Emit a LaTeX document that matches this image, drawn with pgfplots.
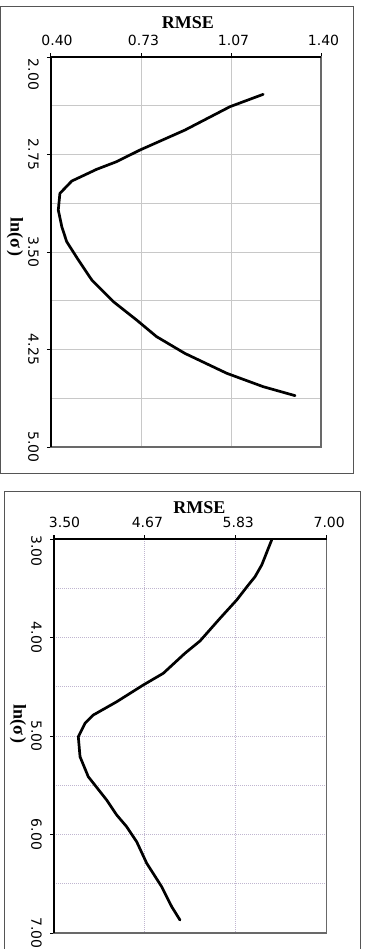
\documentclass[border=0pt]{standalone}
\usepackage{fontspec}
\setmainfont{Liberation Serif}
\newfontfamily\tickfont{DejaVu Sans}
\usepackage{pgfplots}
\usepackage{pgfplotstable}
\pgfplotsset{compat=1.18}
\definecolor{gridA}{RGB}{200,200,200}
\definecolor{gridB}{RGB}{192,182,208}
\definecolor{framec}{RGB}{85,85,85}
\definecolor{boxc}{RGB}{105,105,105}

\pgfplotstableread{
x y
1.186 2.287
1.063 2.382
0.896 2.562
0.730 2.715
0.643 2.805
0.569 2.864
0.477 2.954
0.433 3.049
0.427 3.177
0.440 3.305
0.458 3.420
0.501 3.560
0.551 3.715
0.631 3.882
0.717 4.023
0.791 4.151
0.896 4.280
1.051 4.433
1.186 4.536
1.304 4.605
}\topdata

\pgfplotstableread{
x y
6.294 3.010
6.251 3.095
6.166 3.264
6.080 3.383
5.994 3.467
5.845 3.619
5.631 3.805
5.374 4.035
5.181 4.160
4.903 4.363
4.646 4.482
4.305 4.652
4.004 4.787
3.898 4.871
3.812 5.007
3.834 5.210
3.940 5.413
4.176 5.650
4.305 5.802
4.433 5.921
4.561 6.073
4.690 6.292
4.882 6.530
5.011 6.733
5.117 6.868
}\botdata

\pgfplotsset{
  panel/.style={
    scale only axis,
    y dir=reverse,
    tick align=outside,
    major tick length=4pt,
    minor tick length=0pt,
    grid=both,
    minor x tick num=1,
    minor y tick num=1,
    axis line style={boxc, line width=1.2pt},
    tick style={black, line width=1pt},
    xtick pos=right, xticklabel pos=right,
    ytick pos=left, yticklabel pos=left,
    ticklabel style={font=\tickfont\fontsize{14}{14}\selectfont},
    xticklabel style={anchor=south, inner xsep=0pt, inner ysep=7.5pt, xshift=2.5pt},
    yticklabel style={rotate=-90, anchor=north, inner xsep=0pt, inner ysep=8pt},
    clip=false,
  },
  curve/.style={black, line width=2.7pt, line join=round, line cap=round},
}

\begin{document}
\begin{tikzpicture}[x=1pt,y=1pt]
\useasboundingbox (0,0) rectangle (364,-949);
\draw[framec, line width=1pt] (0.5,-7) rectangle (353,-473);
\draw[framec, line width=1pt] (4.3,-491) rectangle (360,-975);

\begin{axis}[panel,
  at={(51pt,-447pt)}, anchor=south west,
  width=270pt, height=390pt,
  xmin=0.4, xmax=1.4, ymin=2, ymax=5,
  xtick={0.4,0.73333,1.06667,1.4},
  xticklabels={\hspace*{7pt}0.40,0.73,1.07,1.40},
  ytick={2,2.75,3.5,4.25,5},
  yticklabels={\hspace*{35pt}2.00,2.75,3.50,4.25,5.00},
  grid style={gridA, line width=0.9pt},
]
\addplot[curve] table {\topdata};
\draw[black, line width=1.2pt] (axis cs:0.4,5) -- (axis cs:0.4,2) -- (axis cs:1.4,2);
\node[font=\bfseries\fontsize{18}{18}\selectfont, xshift=2pt, yshift=34pt] at (axis cs:0.9,2) {RMSE};
\path (axis cs:0.4,3.5) ++(-36pt,15pt) node[rotate=-90, font=\bfseries\fontsize{18}{18}\selectfont] {ln(σ\,)};
\end{axis}

\begin{axis}[panel,
  at={(54pt,-933pt)}, anchor=south west,
  width=272.7pt, height=394pt,
  xmin=3.5, xmax=7, ymin=3, ymax=7,
  xtick={3.5,4.66667,5.83333,7},
  xticklabels={\hspace*{16pt}3.50,4.67,5.83,7.00},
  ytick={3,4,5,6,7},
  yticklabels={\hspace*{24pt}3.00,4.00,5.00,6.00,7.00},
  grid style={gridB, line width=0.9pt, dash pattern=on 1pt off 1pt},
]
\addplot[curve] table {\botdata};
\draw[black, line width=1.2pt] (axis cs:3.5,7) -- (axis cs:3.5,3) -- (axis cs:7,3);
\node[font=\bfseries\fontsize{18}{18}\selectfont, xshift=9pt, yshift=31pt] at (axis cs:5.25,3) {RMSE};
\path (axis cs:3.5,5) ++(-36pt,12pt) node[rotate=-90, font=\bfseries\fontsize{18}{18}\selectfont] {ln(σ\,)};
\end{axis}
\end{tikzpicture}
\end{document}
